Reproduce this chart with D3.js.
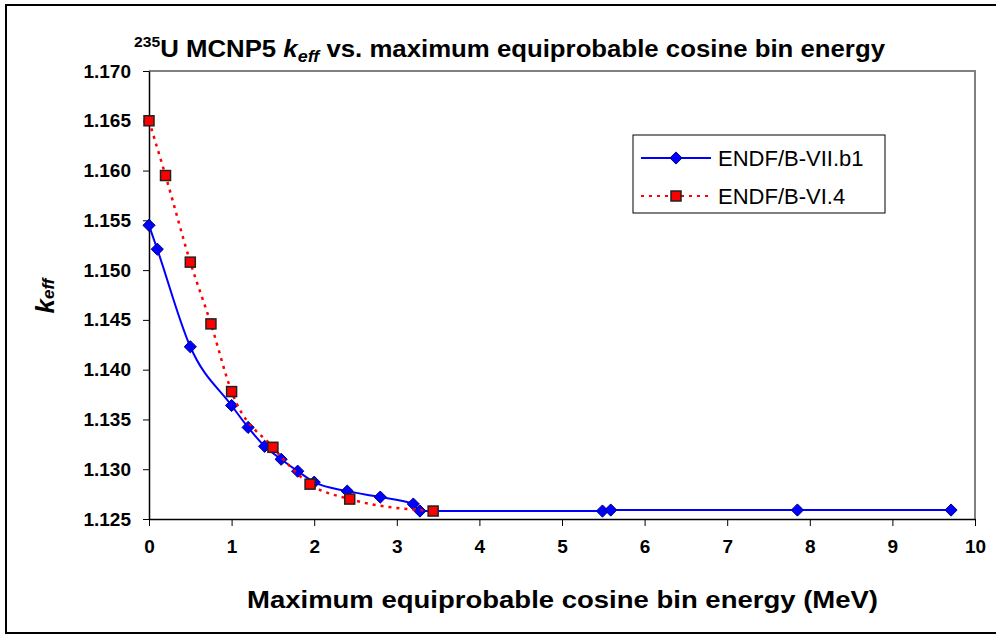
<!DOCTYPE html>
<html>
<head>
<meta charset="utf-8">
<script src="https://cdn.jsdelivr.net/npm/d3@7"></script>
<style>
  body { margin: 0; background: #fff; }
  text { font-family: Arial, "Liberation Sans", sans-serif; }
</style>
</head>
<body>
<script>
// data
var seriesNames = ["ENDF/B-VII.b1", "ENDF/B-VI.4"];

var vii_energy = [0, 0.1, 0.5, 1.0, 1.2, 1.4, 1.6, 1.8, 2.0, 2.4, 2.8, 3.2, 3.28, 5.49, 5.59, 7.85, 9.71];
var vii_keff   = [1.1545, 1.1521, 1.1423, 1.1364, 1.1342, 1.1323, 1.1310, 1.1298, 1.1287, 1.1278, 1.1272, 1.1265, 1.1258, 1.1258, 1.1259, 1.1259, 1.1259];

var vi_energy = [0, 0.2, 0.5, 0.75, 1.0, 1.5, 1.95, 2.43, 3.44];
var vi_keff   = [1.1650, 1.1595, 1.1508, 1.1446, 1.1378, 1.1322, 1.1285, 1.1270, 1.1258];

var xTicks = [0, 1, 2, 3, 4, 5, 6, 7, 8, 9, 10];
var yTicks = [1.125, 1.130, 1.135, 1.140, 1.145, 1.150, 1.155, 1.160, 1.165, 1.170];

var w = 996;
var h = 635;
var pLeft = 149, pRight = 975, pTop = 71, pBottom = 519;

var svg = d3.select("body")
  .append("svg")
  .attr("width", w)
  .attr("height", h);

// outer frame
svg.append("rect")
  .attr("x", 6).attr("y", 5)
  .attr("width", 1000).attr("height", 628)
  .attr("fill", "none")
  .attr("stroke", "#000")
  .attr("stroke-width", 2);

var x = d3.scaleLinear().domain([0, 10]).range([pLeft, pRight]);
var y = d3.scaleLinear().domain([1.125, 1.170]).range([pBottom, pTop]);

// plot frame top/right (gray)
svg.append("path")
  .attr("d", "M" + pLeft + "," + pTop + "H" + pRight + "V" + pBottom)
  .attr("fill", "none")
  .attr("stroke", "#808080")
  .attr("stroke-width", 2);

var xAxis = svg.append("g")
  .attr("transform", "translate(0," + pBottom + ")")
  .call(d3.axisBottom(x).tickValues(xTicks).tickSize(7).tickSizeOuter(0).tickPadding(14));

var yAxis = svg.append("g")
  .attr("transform", "translate(" + pLeft + ",0)")
  .call(d3.axisLeft(y).tickValues(yTicks).tickFormat(d3.format(".3f")).tickSize(6).tickSizeOuter(0).tickPadding(12));

svg.selectAll(".domain").attr("stroke", "#000").attr("stroke-width", 1.5);
svg.selectAll(".tick line").attr("stroke", "#000");
svg.selectAll(".tick text")
  .attr("font-family", "Arial, 'Liberation Sans', sans-serif")
  .attr("font-size", 19)
  .attr("font-weight", "bold")
  .attr("fill", "#000");

var line = d3.line()
  .x(function(d) { return x(d[0]); })
  .y(function(d) { return y(d[1]); })
  .curve(d3.curveMonotoneX);

var viiData = vii_energy.map(function(e, i) { return [e, vii_keff[i]]; });
var viData = vi_energy.map(function(e, i) { return [e, vi_keff[i]]; });

// blue series
svg.append("path")
  .datum(viiData)
  .attr("d", line)
  .attr("fill", "none")
  .attr("stroke", "#0000ff")
  .attr("stroke-width", 2);

var diamond = d3.symbol().type(d3.symbolDiamond2).size(95);
svg.selectAll(".dia")
  .data(viiData)
  .enter()
  .append("path")
  .attr("class", "dia")
  .attr("d", diamond)
  .attr("transform", function(d) { return "translate(" + x(d[0]) + "," + y(d[1]) + ")"; })
  .attr("fill", "#0000ff")
  .attr("stroke", "#000080")
  .attr("stroke-width", 1);

// red series
svg.append("path")
  .datum(viData)
  .attr("d", line)
  .attr("fill", "none")
  .attr("stroke", "#ff0000")
  .attr("stroke-width", 2.5)
  .attr("stroke-dasharray", "3,5");

svg.selectAll(".sq")
  .data(viData)
  .enter()
  .append("rect")
  .attr("class", "sq")
  .attr("x", function(d) { return x(d[0]) - 5; })
  .attr("y", function(d) { return y(d[1]) - 5; })
  .attr("width", 10)
  .attr("height", 10)
  .attr("fill", "#ff0000")
  .attr("stroke", "#222")
  .attr("stroke-width", 1.5);

// legend
var lg = svg.append("g").attr("transform", "translate(633,135)");
lg.append("rect")
  .attr("width", 252).attr("height", 78)
  .attr("fill", "#fff")
  .attr("stroke", "#000")
  .attr("stroke-width", 1);

lg.append("line").attr("x1", 8).attr("x2", 78).attr("y1", 23).attr("y2", 23)
  .attr("stroke", "#0000ff").attr("stroke-width", 2);
lg.append("path").attr("d", diamond)
  .attr("transform", "translate(43,23)")
  .attr("fill", "#0000ff").attr("stroke", "#000080");
lg.append("line").attr("x1", 8).attr("x2", 78).attr("y1", 61).attr("y2", 61)
  .attr("stroke", "#ff0000").attr("stroke-width", 2).attr("stroke-dasharray", "3,5");
lg.append("rect").attr("x", 38).attr("y", 56).attr("width", 10).attr("height", 10)
  .attr("fill", "#ff0000").attr("stroke", "#222").attr("stroke-width", 1.5);

lg.selectAll(".lt")
  .data(seriesNames)
  .enter()
  .append("text")
  .attr("x", 85)
  .attr("y", function(d, i) { return 31 + i * 38; })
  .attr("font-size", 22)
  .text(function(d) { return d; });

// title
var title = svg.append("text")
  .attr("x", 134)
  .attr("y", 57)
  .attr("font-size", 23)
  .attr("font-weight", "bold")
  .attr("textLength", 751)
  .attr("lengthAdjust", "spacingAndGlyphs");
title.append("tspan").attr("font-size", 14).attr("dy", -10).text("235");
title.append("tspan").attr("dy", 10).text("U MCNP5 ");
title.append("tspan").attr("font-style", "italic").text("k");
title.append("tspan").attr("font-style", "italic").attr("font-size", 16).attr("dy", 5).text("eff");
title.append("tspan").attr("dy", -5).text(" vs. maximum equiprobable cosine bin energy");

// axis titles
svg.append("text")
  .attr("x", 247)
  .attr("y", 608)
  .attr("font-size", 24)
  .attr("font-weight", "bold")
  .attr("textLength", 631)
  .attr("lengthAdjust", "spacingAndGlyphs")
  .text("Maximum equiprobable cosine bin energy (MeV)");

var yl = svg.append("text")
  .attr("transform", "translate(54,296) rotate(-90)")
  .attr("text-anchor", "middle")
  .attr("font-weight", "bold")
  .attr("font-style", "italic");
yl.append("tspan").attr("font-size", 26).text("k");
yl.append("tspan").attr("font-size", 17).attr("dy", 0).text("eff");
</script>
</body>
</html>
